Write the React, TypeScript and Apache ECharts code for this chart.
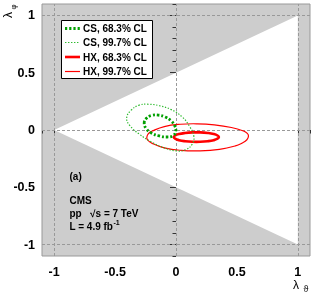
import React, { useEffect, useRef } from "react";
import * as echarts from "echarts";

// ---- data ----
const majorTicks = [-1, -0.5, 0, 0.5, 1];
const minorTicks = [
  -1.1, -1, -0.9, -0.8, -0.7, -0.6, -0.5, -0.4, -0.3, -0.2, -0.1, 0,
  0.1, 0.2, 0.3, 0.4, 0.5, 0.6, 0.7, 0.8, 0.9, 1, 1.1,
];
const refLinesX = [-1, 0, 1];
const refLinesY = [-1, 0, 1];
// physically allowed region (white triangle)
const allowedRegion = [
  [-1, 0],
  [1, 1],
  [1, -1],
];
// CS frame, 68.3% CL contour
const cs683 = [
  [-0.261, 0.061], [-0.245, 0.1], [-0.203, 0.126], [-0.146, 0.13],
  [-0.088, 0.113], [-0.039, 0.078], [-0.01, 0.035], [-0.002, -0.009],
  [-0.022, -0.048], [-0.072, -0.061], [-0.137, -0.052], [-0.203, -0.026],
  [-0.245, 0.013],
];
// CS frame, 99.7% CL contour
const cs997 = [
  [-0.405, 0.104], [-0.368, 0.173], [-0.302, 0.217], [-0.228, 0.225],
  [-0.137, 0.212], [-0.039, 0.178], [0.052, 0.113], [0.109, 0.035],
  [0.146, -0.052], [0.134, -0.121], [0.077, -0.173], [0.002, -0.182],
  [-0.096, -0.156], [-0.203, -0.104], [-0.302, -0.035], [-0.376, 0.035],
];
// HX frame, 68.3% CL contour
const hx683 = [
  [0.352, -0.062], [0.341, -0.048], [0.309, -0.035], [0.26, -0.026],
  [0.199, -0.021], [0.135, -0.021], [0.075, -0.026], [0.025, -0.035],
  [-0.007, -0.048], [-0.018, -0.062], [-0.007, -0.076], [0.025, -0.089],
  [0.075, -0.098], [0.135, -0.103], [0.199, -0.103], [0.26, -0.098],
  [0.309, -0.089], [0.341, -0.076],
];
// HX frame, 99.7% CL contour
const hx997 = [
  [-0.24, -0.065], [-0.225, -0.03], [-0.195, -0.009], [-0.096, 0.03],
  [0.035, 0.05], [0.175, 0.054], [0.315, 0.045], [0.455, 0.022],
  [0.554, -0.009], [0.585, -0.03], [0.595, -0.052], [0.582, -0.085],
  [0.54, -0.115], [0.488, -0.139], [0.356, -0.169], [0.191, -0.182],
  [0.044, -0.178], [-0.096, -0.156], [-0.195, -0.117], [-0.23, -0.09],
];
const legendNames = ["CS, 68.3% CL", "CS, 99.7% CL", "HX, 68.3% CL", "HX, 99.7% CL"];

const FONT = "'Liberation Sans', Arial, Helvetica, sans-serif";

type Sty = { stroke: string; lineWidth: number; lineDash: number[] | null };
const styles: Sty[] = [
  { stroke: "#00a000", lineWidth: 2.8, lineDash: [2.2, 2] },
  { stroke: "#30bb30", lineWidth: 1.2, lineDash: [1.4, 1.6] },
  { stroke: "#ff0000", lineWidth: 2.6, lineDash: null },
  { stroke: "#ff0000", lineWidth: 1.2, lineDash: null },
];

function contourSeries(name: string, pts: number[][], s: Sty, z: number) {
  return {
    type: "custom",
    name,
    coordinateSystem: "cartesian2d",
    z,
    data: pts,
    renderItem: (params: any, api: any) => {
      if (params.dataIndex !== 0) return null;
      const p = pts.map((d) => api.coord(d));
      const style: any = {
        fill: "none",
        stroke: s.stroke,
        lineWidth: s.lineWidth,
      };
      if (s.lineDash) style.lineDash = s.lineDash;
      return {
        type: "polygon",
        shape: { points: p, smooth: 0.45, smoothConstraint: false },
        style,
      };
    },
  };
}

export default function App() {
  const ref = useRef<HTMLDivElement>(null);
  useEffect(() => {
    if (!ref.current) return;
    const chart = echarts.init(ref.current, null, { renderer: "svg" });
    const axisCommon = {
      type: "value",
      min: -1.1,
      max: 1.1,
      splitLine: { show: false },
      axisLine: { show: false },
    };
    const labelStyle = {
      fontFamily: FONT,
      fontWeight: "bold",
      fontSize: 12.5,
      color: "#000",
    };
    const legendRows = [28.5, 42.5, 57, 71.5];
    const graphic: any[] = [
      {
        type: "rect",
        shape: { x: 61.5, y: 20.5, width: 91, height: 58 },
        style: { fill: "#fff", stroke: "#000", lineWidth: 1 },
        z: 100,
      },
    ];
    legendNames.forEach((n, i) => {
      const s = styles[i];
      const st: any = { stroke: s.stroke, lineWidth: s.lineWidth };
      if (s.lineDash) st.lineDash = s.lineDash;
      graphic.push({
        type: "line",
        shape: { x1: 65, y1: legendRows[i], x2: 80, y2: legendRows[i] },
        style: st,
        z: 101,
      });
      graphic.push({
        type: "text",
        x: 83,
        y: legendRows[i],
        style: {
          text: n,
          fontFamily: FONT,
          fontWeight: "bold",
          fontSize: 10,
          fill: "#000",
          verticalAlign: "middle",
        },
        z: 101,
      });
    });
    const ann = [
      { t: "(a)", y: 176.5 },
      { t: "CMS", y: 200.5 },
      { t: "pp   \u221As = 7 TeV", y: 213.5 },
      { t: "L = 4.9 fb", y: 226.5 },
    ];
    ann.forEach((a) =>
      graphic.push({
        type: "text",
        x: 69.5,
        y: a.y,
        style: {
          text: a.t,
          fontFamily: FONT,
          fontWeight: "bold",
          fontSize: 10,
          fill: "#000",
          verticalAlign: "middle",
        },
        z: 101,
      })
    );
    graphic.push({
      type: "text",
      x: 113.5,
      y: 222.5,
      style: {
        text: "-1",
        fontFamily: FONT,
        fontWeight: "bold",
        fontSize: 7,
        fill: "#000",
        verticalAlign: "middle",
      },
      z: 101,
    });
    // axis titles
    graphic.push(
      {
        type: "text",
        x: 8,
        y: 15,
        rotation: Math.PI / 2,
        style: {
          text: "\u03BB",
          fontFamily: FONT,
          fontSize: 12,
          fill: "#000",
          align: "center",
          verticalAlign: "middle",
        },
      },
      {
        type: "text",
        x: 13,
        y: 7,
        rotation: Math.PI / 2,
        style: {
          text: "\u03C6",
          fontFamily: FONT,
          fontSize: 8,
          fill: "#000",
          align: "center",
          verticalAlign: "middle",
        },
      },
      {
        type: "text",
        x: 296,
        y: 284.5,
        style: {
          text: "\u03BB",
          fontFamily: FONT,
          fontSize: 12,
          fill: "#000",
          align: "center",
          verticalAlign: "middle",
        },
      },
      {
        type: "text",
        x: 306,
        y: 289,
        style: {
          text: "\u03D1",
          fontFamily: FONT,
          fontSize: 9,
          fill: "#000",
          align: "center",
          verticalAlign: "middle",
        },
      }
    );

    chart.setOption({
      animation: false,
      grid: {
        left: 42,
        right: 6,
        top: 4,
        bottom: 41,
        show: true,
        backgroundColor: "#cdcdcd",
        borderColor: "#999",
        borderWidth: 1,
      },
      xAxis: [
        {
          ...axisCommon,
          position: "bottom",
          axisTick: {
            show: true,
            inside: false,
            length: 6,
            customValues: majorTicks,
            lineStyle: { color: "#333" },
          },
          axisLabel: {
            ...labelStyle,
            customValues: majorTicks,
            margin: 9,
            formatter: (v: number) => String(v),
          },
        },
        {
          ...axisCommon,
          position: "bottom",
          axisTick: {
            show: true,
            inside: false,
            length: 3.5,
            customValues: minorTicks,
            lineStyle: { color: "#333" },
          },
          axisLabel: { show: false },
        },
      ],
      yAxis: [
        {
          ...axisCommon,
          position: "left",
          axisTick: {
            show: true,
            inside: false,
            length: 6,
            customValues: majorTicks,
            lineStyle: { color: "#333" },
          },
          axisLabel: {
            ...labelStyle,
            customValues: majorTicks,
            margin: 7,
            formatter: (v: number) => String(v),
          },
        },
        {
          ...axisCommon,
          position: "left",
          axisTick: {
            show: true,
            inside: false,
            length: 3.5,
            customValues: minorTicks,
            lineStyle: { color: "#333" },
          },
          axisLabel: { show: false },
        },
      ],
      series: [
        {
          type: "custom",
          name: "allowed",
          coordinateSystem: "cartesian2d",
          z: 1,
          data: allowedRegion,
          renderItem: (params: any, api: any) => {
            if (params.dataIndex !== 0) return null;
            return {
              type: "polygon",
              shape: { points: allowedRegion.map((d) => api.coord(d)) },
              style: { fill: "#ffffff", stroke: "none" },
            };
          },
        },
        {
          type: "line",
          name: "ref",
          z: 3,
          data: [],
          markLine: {
            silent: true,
            symbol: "none",
            label: { show: false },
            lineStyle: { color: "#999", type: [3, 2], width: 1 },
            data: [
              ...refLinesX.map((v) => ({ xAxis: v })),
              ...refLinesY.map((v) => ({ yAxis: v })),
            ],
          },
        },
        contourSeries(legendNames[2], hx683, styles[2], 5),
        contourSeries(legendNames[3], hx997, styles[3], 5),
        contourSeries(legendNames[0], cs683, styles[0], 6),
        contourSeries(legendNames[1], cs997, styles[1], 6),
      ],
      graphic,
    });
    return () => chart.dispose();
  }, []);
  return (
    <div
      ref={ref}
      style={{ position: "fixed", left: 0, top: 0, width: 316, height: 297 }}
    />
  );
}
